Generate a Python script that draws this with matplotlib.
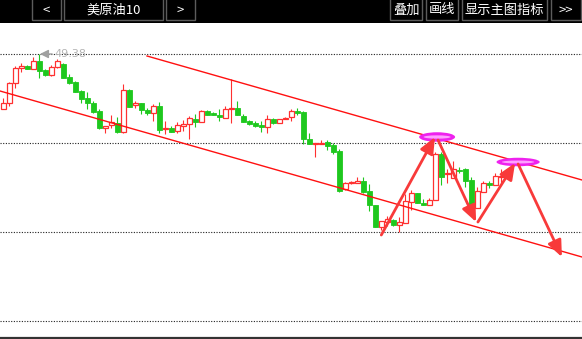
import matplotlib
matplotlib.use('Agg')
import matplotlib.pyplot as plt
from matplotlib.patches import Rectangle, Ellipse, FancyArrowPatch
import numpy as np

plt.rcParams['font.family'] = ['Noto Sans CJK SC', 'DejaVu Sans']

# ---------------- data (prices) ----------------
opens = [48.28, 48.40, 48.80, 49.10, 49.14, 49.08, 49.24, 49.06, 48.96, 49.12,
         49.18, 48.92, 48.82, 48.64, 48.50, 48.40, 48.24, 47.90, 47.96, 48.00,
         47.82, 48.66, 48.36, 48.40, 48.26, 48.20, 48.34, 47.88, 47.90, 47.84,
         47.94, 47.98, 48.08, 48.02, 48.24, 48.20, 48.16, 48.10, 48.28, 48.30,
         48.14, 48.04, 48.00, 47.96, 47.92, 48.08, 48.00, 48.08, 48.12, 48.24,
         48.22, 47.68, 47.58, 47.58, 47.62, 47.56, 47.44, 46.68, 46.80, 46.80,
         46.84, 46.64, 46.36, 45.92, 46.02, 46.06, 45.96, 46.00, 46.42, 46.60,
         46.40, 46.36, 46.46, 47.38, 46.98, 46.90, 47.06, 47.08, 46.86, 46.30,
         46.62, 46.80, 46.76, 46.92]
highs = [48.50, 48.82, 49.14, 49.20, 49.16, 49.32, 49.38, 49.08, 49.16, 49.28,
         49.20, 48.98, 48.84, 48.66, 48.62, 48.44, 48.28, 47.94, 48.16, 48.12,
         48.78, 48.68, 48.44, 48.40, 48.30, 48.38, 48.42, 48.04, 47.94, 48.02,
         48.06, 48.14, 48.18, 48.26, 48.26, 48.22, 48.28, 48.34, 48.88, 48.44,
         48.18, 48.06, 48.04, 48.04, 48.16, 48.10, 48.08, 48.12, 48.28, 48.30,
         48.24, 47.80, 47.60, 47.66, 47.66, 47.60, 47.48, 46.82, 46.84, 46.92,
         46.92, 46.78, 46.36, 46.04, 46.14, 46.08, 46.12, 46.58, 46.66, 46.60,
         46.48, 46.50, 47.42, 47.42, 47.08, 47.24, 47.12, 47.10, 46.92, 46.72,
         46.84, 46.84, 47.00, 47.08]
lows = [48.28, 48.34, 48.70, 49.02, 49.08, 49.08, 48.90, 48.94, 48.94, 49.10,
        48.90, 48.78, 48.62, 48.40, 48.28, 48.20, 47.88, 47.80, 47.90, 47.80,
        47.80, 48.32, 48.30, 48.18, 48.16, 48.04, 47.80, 47.78, 47.82, 47.80,
        47.84, 47.68, 47.92, 48.02, 48.16, 48.16, 48.04, 48.10, 48.00, 48.16,
        48.02, 47.96, 47.92, 47.82, 47.80, 47.98, 48.00, 48.08, 48.04, 48.16,
        47.58, 47.58, 47.32, 47.58, 47.46, 47.38, 46.62, 46.66, 46.78, 46.80,
        46.60, 46.24, 45.92, 45.86, 45.94, 45.94, 45.82, 46.00, 46.26, 46.40,
        46.36, 46.36, 46.46, 46.76, 46.80, 46.90, 47.00, 46.72, 46.32, 46.30,
        46.62, 46.70, 46.76, 46.80]
closes = [48.40, 48.80, 49.10, 49.14, 49.08, 49.24, 49.04, 48.96, 49.12, 49.24,
          48.90, 48.80, 48.62, 48.48, 48.40, 48.22, 47.90, 47.94, 48.02, 47.82,
          48.66, 48.32, 48.40, 48.26, 48.20, 48.34, 47.86, 47.90, 47.82, 47.96,
          47.98, 48.10, 48.02, 48.24, 48.16, 48.16, 48.12, 48.28, 48.30, 48.16,
          48.02, 47.98, 47.94, 47.92, 48.08, 48.00, 48.08, 48.10, 48.24, 48.20,
          47.68, 47.58, 47.60, 47.60, 47.54, 47.42, 46.64, 46.80, 46.82, 46.84,
          46.62, 46.36, 45.92, 46.04, 46.08, 45.96, 46.02, 46.44, 46.60, 46.40,
          46.36, 46.46, 47.38, 46.92, 47.00, 47.08, 47.04, 46.84, 46.32, 46.64,
          46.80, 46.76, 46.94, 46.94]

grid_prices = [49.38, 47.60, 45.82, 44.04]

# trend channel (candle index, price)
upper_x = [23.95, 96.45]
upper_y = [49.34, 46.86]
lower_x = [-0.55, 96.45]
lower_y = [48.64, 45.32]

# drawn arrows: start (index, price) -> end (index, price)
arrow_x0 = [63.0, 72.45, 79.1, 85.8]
arrow_y0 = [45.76, 47.66, 46.02, 47.18]
arrow_x1 = [71.95, 78.8, 85.3, 93.1]
arrow_y1 = [47.72, 46.02, 47.20, 45.32]

# highlighted tops (index, price, width in candles, height in price)
mark_x = [72.3, 85.8]
mark_y = [47.72, 47.22]
mark_w = [6.0, 7.2]
mark_h = [0.19, 0.17]

tab_labels = ['<', '美原油10', '>', '叠加', '画线', '显示主图指标', '>>']

# ---------------- figure ----------------
W, H, DPI = 582, 339, 100
BAR = 23
fig = plt.figure(figsize=(W / DPI, H / DPI), dpi=DPI)
fig.patch.set_facecolor('white')

ax = fig.add_axes([0, 0, 1, (H - BAR) / H])
ax.set_xlim(-0.55, 96.45)
ax.set_ylim(43.68, 50.00)
ax.axis('off')

RED = '#ff3030'
GREEN = '#1ec81e'

# grid lines
for gp in grid_prices:
    ax.axhline(gp, color='#202020', lw=0.8, linestyle=(0, (1, 1.4)), zorder=1)
ax.axhline(43.70, color='#333333', lw=1.6, zorder=1)

# candles
bw = 0.8
min_h = 0.02
for i, (o, h, l, c) in enumerate(zip(opens, highs, lows, closes)):
    up = c >= o
    col = RED if up else GREEN
    bot, top = min(o, c), max(o, c)
    hgt = max(top - bot, min_h)
    if up:
        ax.plot([i, i], [bot + hgt, h], color=col, lw=0.8, zorder=3,
                solid_capstyle='butt')
        ax.plot([i, i], [l, bot], color=col, lw=0.8, zorder=3, solid_capstyle='butt')
        ax.add_patch(Rectangle((i - bw / 2, bot), bw, hgt, facecolor='white',
                               edgecolor=col, lw=0.9, zorder=4))
    else:
        ax.plot([i, i], [l, h], color=col, lw=0.8, zorder=3, solid_capstyle='butt')
        ax.add_patch(Rectangle((i - bw / 2, bot), bw, hgt, facecolor=col,
                               edgecolor=col, lw=0.6, zorder=4))

# max label
imax = int(np.argmax(highs))
ax.annotate(f'{highs[imax]:.2f}', xy=(imax + 0.1, highs[imax]),
            xytext=(imax + 2.6, highs[imax]), color='#b4b4b4', fontsize=8,
            family='DejaVu Sans', va='center', ha='left', zorder=6,
            arrowprops=dict(arrowstyle='-|>,head_length=0.5,head_width=0.25',
                            color='#a0a0a0', lw=1.0, shrinkA=0, shrinkB=0,
                            mutation_scale=10))

# channel
ax.plot(upper_x, upper_y, color='#ff1010', lw=1.0, zorder=5)
ax.plot(lower_x, lower_y, color='#ff1010', lw=1.0, zorder=5)

# highlighted tops
for mx, my, mw, mh in zip(mark_x, mark_y, mark_w, mark_h):
    ax.add_patch(Ellipse((mx, my), mw, mh, facecolor='#ee22ee', edgecolor='none', zorder=6))
    ax.add_patch(Ellipse((mx, my), mw * 0.75, mh * 0.35, facecolor='#ffa0ff',
                         edgecolor='none', zorder=6))

# arrows
for x0, y0, x1, y1 in zip(arrow_x0, arrow_y0, arrow_x1, arrow_y1):
    ax.add_patch(FancyArrowPatch((x0, y0), (x1, y1),
                                 arrowstyle='-|>,head_length=0.7,head_width=0.3',
                                 mutation_scale=14, color='#f83a3a', lw=2.0,
                                 shrinkA=0, shrinkB=0, zorder=7))

# ---------------- top tool bar ----------------
bar = fig.add_axes([0, 1 - BAR / H, 1, BAR / H])
bar.set_xlim(0, W)
bar.set_ylim(BAR, 0)
bar.set_facecolor('black')
bar.set_xticks([])
bar.set_yticks([])
for s in bar.spines.values():
    s.set_visible(False)
tab_left = [32, 64, 166, 390, 426, 462, 551]
tab_right = [61, 163, 195, 422, 458, 547, 581]
for lab, x0, x1 in zip(tab_labels, tab_left, tab_right):
    bar.add_patch(Rectangle((x0, -2), x1 - x0, 22.4, facecolor='black',
                            edgecolor='#5c5c5c', lw=1.0))
    bar.text((x0 + x1) / 2, 10, lab, color='white', fontsize=9.5,
             ha='center', va='center')

fig.savefig('out.png', dpi=DPI, facecolor='white')
